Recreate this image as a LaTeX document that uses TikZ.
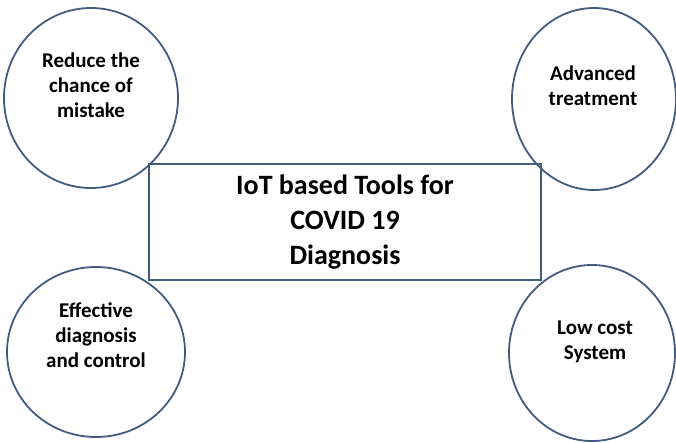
\documentclass[tikz,border=0pt]{standalone}
\usepackage{fontspec}
\setmainfont{Carlito}
\usetikzlibrary{shapes.geometric}
\definecolor{edgeblue}{RGB}{66,92,128}
\tikzset{
  bubble/.style={draw=edgeblue, line width=1.8pt, ellipse, inner sep=0pt},
  bubbletext/.style={align=center, font=\fontsize{21}{25}\selectfont\bfseries},
  toolbox/.style={draw=edgeblue, line width=1.8pt, minimum width=392pt, minimum height=116pt,
    align=center, font=\fontsize{28}{35}\selectfont\bfseries}
}
\begin{document}
\begin{tikzpicture}[x=1pt, y=-1pt]
\useasboundingbox (0,0) rectangle (676,442);
% centre box
\node[toolbox] (tools) at (345,222) {IoT based Tools for\\COVID 19\\Diagnosis};
% the four bubbles round it
\node[bubble, minimum width=174pt, minimum height=180pt] (mistake) at (91,98) {};
\node[bubble, minimum width=164pt, minimum height=182pt] (treat) at (594,99) {};
\node[bubble, minimum width=178pt, minimum height=170pt] (control) at (96,352) {};
\node[bubble, minimum width=166pt, minimum height=176pt] (cost) at (592,353) {};
\node[bubbletext] (mistaketext) at (91,85) {Reduce the\\chance of\\mistake};
\node[bubbletext] (treattext) at (593,86) {Advanced\\treatment};
\node[bubbletext] (controltext) at (96,335) {Effective\\diagnosis\\and control};
\node[bubbletext] (costtext) at (595,342) {Low cost\\System};
\end{tikzpicture}
\end{document}
